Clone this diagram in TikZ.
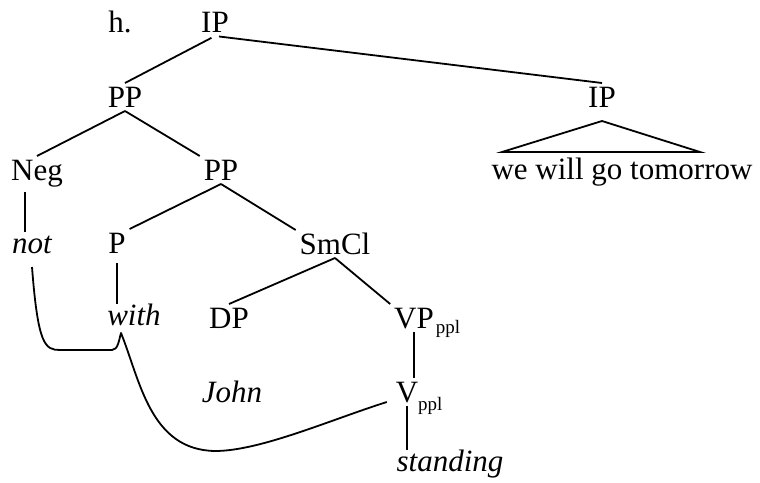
\documentclass[tikz,border=0pt]{standalone}
\usepackage{fontspec}
\setmainfont{Liberation Serif}
\usepackage{tikz}

% lowered subscript that takes no width
\newcommand{\ppl}[2]{\rlap{\kern#1\raisebox{-#2}{\fontsize{19}{19}\selectfont ppl}}}

\begin{document}
\begin{tikzpicture}[
    x=1pt, y=-1pt,
    cat/.style={inner sep=0pt, outer sep=4pt, anchor=base, text height=20pt,
                text depth=0pt, font=\fontsize{31}{37}\selectfont},
    word/.style={cat, text height=17pt, font=\fontsize{31}{37}\selectfont\itshape},
    branch/.style={line width=1.8pt},
    stem/.style={branch},
    link/.style={line width=1.8pt, line join=round}
]
\useasboundingbox (0,0) rectangle (760,482);

\node[cat] (ex) at (120,32) {h.};
\node[cat] (ip) at (215,32) {IP};
\node[cat] (pp1) at (125,107) {PP};
\node[cat] (ip2) at (602,107) {IP};
\node[cat] (clause) at (622,179) {we will go tomorrow};
\node[cat] (neg) at (37,180) {Neg};
\node[cat] (pp2) at (221,180) {PP};
\node[word] (notw) at (32,253) {not};
\node[cat] (p) at (117,253) {P};
\node[cat] (smcl) at (335,254) {SmCl};
\node[word] (withw) at (134,325) {with};
\node[cat] (dp) at (229,328) {DP};
\node[cat] (vp) at (414,328) {VP\ppl{2pt}{5pt}};
\node[word] (john) at (232,402) {John};
\node[cat] (v) at (407,402) {V\ppl{0pt}{8pt}};
\node[word] (standing) at (450,471) {standing};

% branches
\draw[branch, shorten <=4pt] (ip.south) -- (pp1.north);
\draw[branch, shorten <=4pt] (ip.south) -- (ip2.north);
\draw[branch] (pp1.south) -- (neg.north);
\draw[branch] (pp1.south) -- (pp2.north west);
\draw[branch] (pp2.south) -- (p.north east);
\draw[branch] (pp2.south) -- (smcl.north west);
\draw[branch] (smcl.south) -- (dp.north);
\draw[branch] (smcl.south) -- (vp.north west);

% unary stems
\draw[stem, shorten <=8pt] ([xshift=-12pt]neg.south) -- ([xshift=-12pt]neg.south |- notw.north);
\draw[stem, shorten <=6pt] (p.south) -- (p.south |- withw.north);
\draw[stem] (vp.south) -- (vp.south |- v.north);
\draw[stem] (v.south) -- (v.south |- standing.north);

% triangle over the clause
\coordinate (apex) at ([yshift=-14pt]ip2.base);
\coordinate (triL) at ([xshift=-100pt,yshift=-45pt]ip2.base);
\coordinate (triR) at ([xshift=98pt,yshift=-45pt]ip2.base);
\draw[branch] (apex) -- (triL) -- (triR) -- cycle;

% movement line
\coordinate (cusp) at ([xshift=-13pt,yshift=-4pt]withw.south);
\draw[link] ([yshift=-10pt]notw.south) .. controls (38,345) and (45,350) .. (60,350)
    -- (112,350) .. controls (118,350) and (119,340) .. (cusp)
    .. controls (140,380) and (150,450) .. (215,451)
    .. controls (260,451) and (330,420) .. ([xshift=-5pt]v.base west);
\end{tikzpicture}
\end{document}
